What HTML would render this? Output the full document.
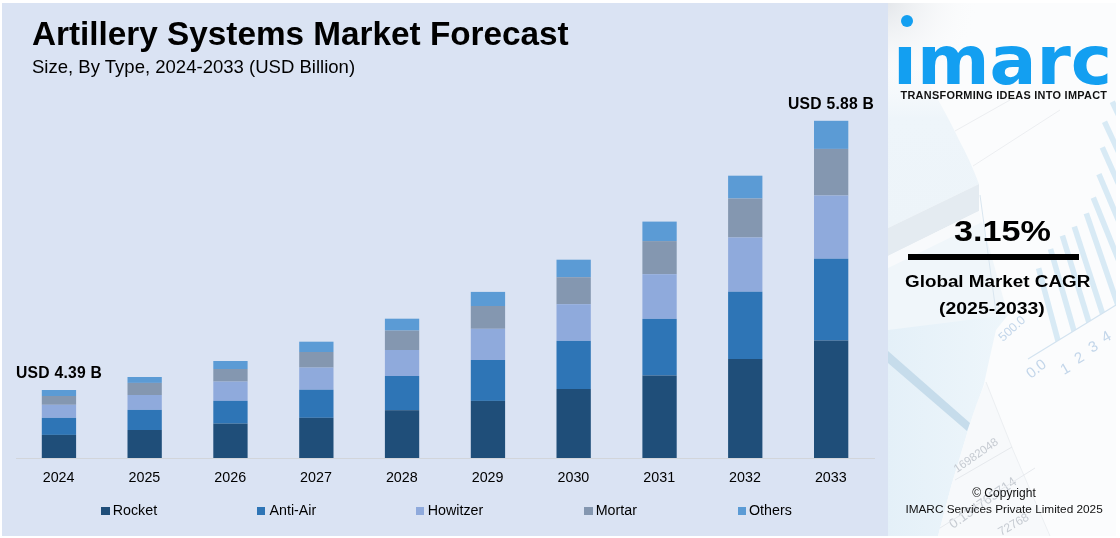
<!DOCTYPE html>
<html><head><meta charset="utf-8"><title>Artillery Systems Market Forecast</title>
<style>
html,body{margin:0;padding:0;background:#fff;}
body{width:1120px;height:538px;position:relative;overflow:hidden;font-family:"Liberation Sans",sans-serif;color:#000;}
#left{position:absolute;left:2px;top:3px;width:886px;height:532.5px;background:#dae3f3;}
#right{position:absolute;left:888px;top:3px;width:228px;height:532.5px;background:#fbfcfd;overflow:hidden;}
.abs{position:absolute;white-space:nowrap;}
#title{left:32px;top:14px;font-size:33.3px;font-weight:bold;line-height:40px;}
#sub{left:32px;top:55px;font-size:18.55px;line-height:24px;}
.yr{position:absolute;top:468.6px;width:60px;text-align:center;font-size:14.3px;line-height:16px;}
.lg{position:absolute;top:502px;font-size:14.25px;line-height:16px;white-space:nowrap;}
.sq{position:absolute;top:507px;width:8.3px;height:8.2px;}
.lbl{font-size:15.7px;letter-spacing:0.25px;font-weight:bold;line-height:20px;}
.ctr{position:absolute;white-space:nowrap;transform-origin:0 0;}
</style></head><body>
<div id="left"></div>
<div id="right">
<svg class="abs" style="left:0;top:0" width="228" height="533" viewBox="888 3 228 533">
<defs>
<radialGradient id="g1" gradientUnits="userSpaceOnUse" cx="884" cy="0" r="95"><stop offset="0" stop-color="#e2e5e9"/><stop offset="1" stop-color="#fbfcfd" stop-opacity="0"/></radialGradient>
<linearGradient id="g2" x1="0" y1="0" x2="1" y2="0"><stop offset="0" stop-color="#e4f0f8"/><stop offset="1" stop-color="#eef6fb"/></linearGradient>
<linearGradient id="g4" x1="0" y1="0" x2="0" y2="1"><stop offset="0" stop-color="#f3f8fb" stop-opacity="0"/><stop offset="0.35" stop-color="#eef5fa"/><stop offset="1" stop-color="#edf4f9"/></linearGradient>
<clipPath id="cp"><path d="M1000 0 L1116 0 L1116 305 L1044 349 L1000 376 Z"/></clipPath>
</defs>
<rect x="888" y="3" width="100" height="100" fill="url(#g1)"/>
<!-- upper-left folded paper -->
<path d="M888 60 L915 60 Q945 110 959 140 Q970 160 979 184 L888 228 Z" fill="url(#g4)"/>
<path d="M888 228 L979 184 L979 211 L888 256 Z" fill="#e4ebf1"/>
<path d="M888 256 L979 211 L982 222 L888 268 Z" fill="#f8fafc"/>
<path d="M888 268 L982 222 L1008 315 L888 340 Z" fill="#f0f6fa"/>
<path d="M980 195 L996 312" stroke="#d9e6f0" stroke-width="1" fill="none"/>
<!-- faint grid lines upper -->
<g stroke="#eceef1" stroke-width="1" fill="none"><path d="M955 131 L1010 100"/><path d="M973 166 L1060 110"/></g>
<!-- background bar chart stripes -->
<g clip-path="url(#cp)" stroke="#d8eaf5" stroke-width="5.6" fill="none"><line x1="1112.3" y1="101.7" x2="1247.5" y2="391.7"/><line x1="1104.5" y1="121.8" x2="1239.7" y2="411.8"/><line x1="1102.3" y1="147.4" x2="1232.5" y2="439.7"/><line x1="1098.9" y1="174.2" x2="1223.9" y2="468.8"/><line x1="1093.3" y1="197.6" x2="1213.2" y2="494.3"/><line x1="1086.3" y1="213.3" x2="1190.5" y2="515.9"/><line x1="1074.3" y1="226.7" x2="1173.2" y2="531.0"/><line x1="1062.4" y1="235.6" x2="1156.0" y2="541.6"/><line x1="1050.5" y1="249.0" x2="1138.7" y2="556.6"/><line x1="1038.6" y1="268.3" x2="1121.4" y2="577.4"/></g>
<path d="M1028 359 L1116 305" stroke="#d3e3f0" stroke-width="1.2" fill="none"/>
<!-- lower-left curled paper -->
<path d="M888 330 L1008 315 L996 330 Q988 365 984 384 Q977 405 969 427 Q960 457 951.5 485 L938 536 L888 536 Z" fill="url(#g2)"/>
<path d="M888 351 L970 423 L967 431 L888 363 Z" fill="#c6dceb"/>
<path d="M969 427 Q977 400 986 382 L1013 450 L1050 536 L938 536 L951.5 485 Q960 457 969 427 Z" fill="#f7f9fb"/>
<path d="M986 382 L1013 450 L1050 536" stroke="#eceff2" stroke-width="1" fill="none"/>
<g fill="#c6cbd2" font-family="Liberation Sans, sans-serif">
<text transform="translate(957 473) rotate(-35)" font-size="11.5">16982048</text>
<text transform="translate(953 529) rotate(-35)" font-size="13.5">0.134765714</text>
<text transform="translate(1001 536) rotate(-30)" font-size="12">72768</text>
</g>
<g fill="#c3d6ea" font-family="Liberation Sans, sans-serif" font-size="15">
<text transform="translate(1031 379) rotate(-38)">0.0</text>
<text transform="translate(1064 375) rotate(-30)">1</text>
<text transform="translate(1078 364) rotate(-30)">2</text>
<text transform="translate(1092 353) rotate(-30)">3</text>
<text transform="translate(1105 343) rotate(-30)">4</text>
<text transform="translate(1003 342) rotate(-42)" font-size="12.5">500.0</text>
</g>
<g stroke="#e6e9ed" stroke-width="1" fill="none">
<path d="M955 480 L1012 447"/><path d="M940 528 L1035 468"/>
</g>
</svg>
</div>
<div id="title" class="abs">Artillery Systems Market Forecast</div>
<div id="sub" class="abs">Size, By Type, 2024-2033 (USD Billion)</div>
<svg class="abs" style="left:0;top:0" width="1120" height="538" viewBox="0 0 1120 538">
<line x1="16" x2="875" y1="458.5" y2="458.5" stroke="#d2d5da" stroke-width="1"/>
<rect x="41.8" y="390.0" width="34.3" height="6.0" fill="#5b9bd5"/><rect x="41.8" y="396.0" width="34.3" height="8.8" fill="#8497b0"/><rect x="41.8" y="404.8" width="34.3" height="13.1" fill="#8faadc"/><rect x="41.8" y="417.9" width="34.3" height="17.0" fill="#2e75b6"/><rect x="41.8" y="434.9" width="34.3" height="23.1" fill="#1f4e79"/><rect x="127.5" y="377.0" width="34.3" height="5.9" fill="#5b9bd5"/><rect x="127.5" y="382.9" width="34.3" height="12.1" fill="#8497b0"/><rect x="127.5" y="395.0" width="34.3" height="14.9" fill="#8faadc"/><rect x="127.5" y="409.9" width="34.3" height="20.1" fill="#2e75b6"/><rect x="127.5" y="430.0" width="34.3" height="28.0" fill="#1f4e79"/><rect x="213.3" y="361.0" width="34.3" height="8.0" fill="#5b9bd5"/><rect x="213.3" y="369.0" width="34.3" height="12.6" fill="#8497b0"/><rect x="213.3" y="381.6" width="34.3" height="19.2" fill="#8faadc"/><rect x="213.3" y="400.8" width="34.3" height="22.8" fill="#2e75b6"/><rect x="213.3" y="423.6" width="34.3" height="34.4" fill="#1f4e79"/><rect x="299.2" y="341.7" width="34.3" height="10.3" fill="#5b9bd5"/><rect x="299.2" y="352.0" width="34.3" height="15.6" fill="#8497b0"/><rect x="299.2" y="367.6" width="34.3" height="22.1" fill="#8faadc"/><rect x="299.2" y="389.7" width="34.3" height="28.1" fill="#2e75b6"/><rect x="299.2" y="417.8" width="34.3" height="40.2" fill="#1f4e79"/><rect x="384.9" y="318.7" width="34.3" height="11.9" fill="#5b9bd5"/><rect x="384.9" y="330.6" width="34.3" height="19.4" fill="#8497b0"/><rect x="384.9" y="350.0" width="34.3" height="26.0" fill="#8faadc"/><rect x="384.9" y="376.0" width="34.3" height="34.2" fill="#2e75b6"/><rect x="384.9" y="410.2" width="34.3" height="47.8" fill="#1f4e79"/><rect x="470.8" y="291.9" width="34.3" height="14.1" fill="#5b9bd5"/><rect x="470.8" y="306.0" width="34.3" height="22.8" fill="#8497b0"/><rect x="470.8" y="328.8" width="34.3" height="31.2" fill="#8faadc"/><rect x="470.8" y="360.0" width="34.3" height="40.9" fill="#2e75b6"/><rect x="470.8" y="400.9" width="34.3" height="57.1" fill="#1f4e79"/><rect x="556.5" y="259.7" width="34.3" height="17.5" fill="#5b9bd5"/><rect x="556.5" y="277.2" width="34.3" height="27.0" fill="#8497b0"/><rect x="556.5" y="304.2" width="34.3" height="36.7" fill="#8faadc"/><rect x="556.5" y="340.9" width="34.3" height="48.1" fill="#2e75b6"/><rect x="556.5" y="389.0" width="34.3" height="69.0" fill="#1f4e79"/><rect x="642.4" y="221.6" width="34.3" height="19.5" fill="#5b9bd5"/><rect x="642.4" y="241.1" width="34.3" height="33.1" fill="#8497b0"/><rect x="642.4" y="274.2" width="34.3" height="44.7" fill="#8faadc"/><rect x="642.4" y="318.9" width="34.3" height="56.6" fill="#2e75b6"/><rect x="642.4" y="375.5" width="34.3" height="82.5" fill="#1f4e79"/><rect x="728.1" y="175.7" width="34.3" height="22.8" fill="#5b9bd5"/><rect x="728.1" y="198.5" width="34.3" height="39.0" fill="#8497b0"/><rect x="728.1" y="237.5" width="34.3" height="54.2" fill="#8faadc"/><rect x="728.1" y="291.7" width="34.3" height="67.3" fill="#2e75b6"/><rect x="728.1" y="359.0" width="34.3" height="99.0" fill="#1f4e79"/><rect x="814.0" y="120.8" width="34.3" height="28.1" fill="#5b9bd5"/><rect x="814.0" y="148.9" width="34.3" height="46.6" fill="#8497b0"/><rect x="814.0" y="195.5" width="34.3" height="63.2" fill="#8faadc"/><rect x="814.0" y="258.7" width="34.3" height="81.8" fill="#2e75b6"/><rect x="814.0" y="340.5" width="34.3" height="117.5" fill="#1f4e79"/>
</svg>
<div class="abs lbl" style="left:16px;top:363px">USD 4.39 B</div>
<div class="abs lbl" style="left:788px;top:93.7px">USD 5.88 B</div>
<div class="yr" style="left:28.6px">2024</div><div class="yr" style="left:114.4px">2025</div><div class="yr" style="left:200.2px">2026</div><div class="yr" style="left:286.0px">2027</div><div class="yr" style="left:371.8px">2028</div><div class="yr" style="left:457.6px">2029</div><div class="yr" style="left:543.4px">2030</div><div class="yr" style="left:629.2px">2031</div><div class="yr" style="left:715.0px">2032</div><div class="yr" style="left:800.8px">2033</div>
<div class="sq" style="left:101.25px;background:#1f4e79"></div><div class="lg" style="left:112.75px">Rocket</div>
<div class="sq" style="left:257px;background:#2e75b6"></div><div class="lg" style="left:269.5px">Anti-Air</div>
<div class="sq" style="left:416px;background:#8faadc"></div><div class="lg" style="left:427.75px">Howitzer</div>
<div class="sq" style="left:584.25px;background:#8497b0"></div><div class="lg" style="left:595.75px">Mortar</div>
<div class="sq" style="left:738px;background:#5b9bd5"></div><div class="lg" style="left:749px">Others</div>

<!-- logo -->
<div class="abs" style="left:890px;top:43px;width:226px;height:44px;overflow:hidden;">
  <div id="logo" class="abs" style="left:3.3px;top:-23.5px;font-family:'DejaVu Sans',sans-serif;font-weight:bold;font-size:68.5px;line-height:80px;color:#139ff1;transform-origin:0 0;transform:scaleX(1.017);">imarc</div>
</div>
<div class="abs" style="left:901.3px;top:14.6px;width:12.1px;height:12.1px;border-radius:50%;background:#139ff1"></div>
<div class="abs" id="tag" style="left:900.5px;top:87px;font-size:10.9px;font-weight:bold;line-height:16px;letter-spacing:0.29px;color:#111">TRANSFORMING IDEAS INTO IMPACT</div>

<div class="ctr" id="pct" style="left:953.6px;top:213px;font-size:30px;font-weight:bold;line-height:36px;transform:scaleX(1.14)">3.15%</div>
<div class="abs" style="left:908px;top:254px;width:171px;height:5.6px;background:#000"></div>
<div class="ctr" id="gm" style="left:904.6px;top:270px;font-size:17.4px;font-weight:bold;line-height:22px;transform:scaleX(1.083)">Global Market CAGR</div>
<div class="ctr" id="yrs" style="left:938.5px;top:297px;font-size:17.4px;font-weight:bold;line-height:22px;transform:scaleX(1.117)">(2025-2033)</div>
<div class="abs" id="c1" style="left:972.2px;top:484.6px;font-size:12px;line-height:16px;color:#111">© Copyright</div>
<div class="abs" id="c2" style="left:905.4px;top:500.6px;font-size:11.8px;line-height:16px;color:#111">IMARC Services Private Limited 2025</div>
</body></html>
